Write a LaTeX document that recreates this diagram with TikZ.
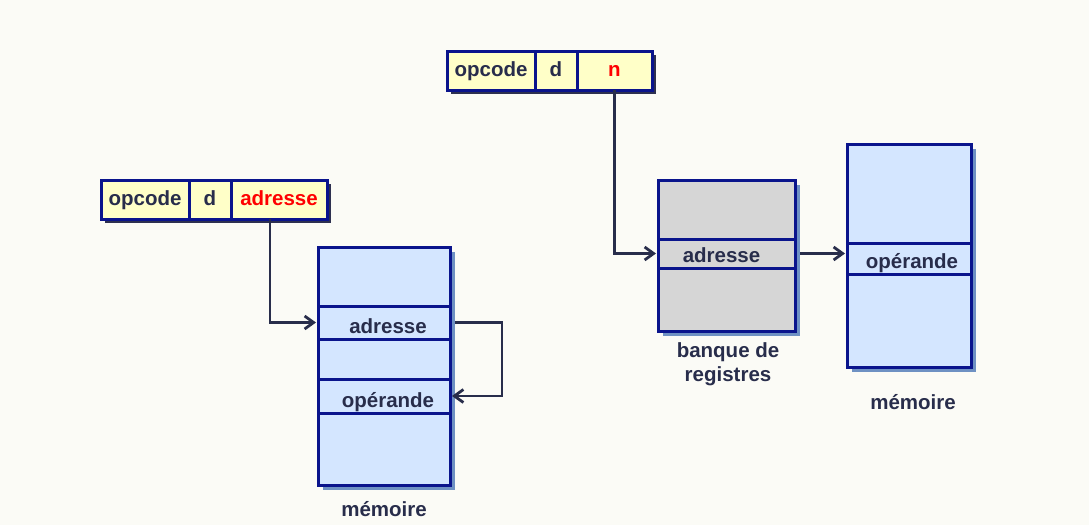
\documentclass[tikz,border=0pt]{standalone}
\usepackage{fontspec}
\setmainfont{Liberation Sans}
\usetikzlibrary{positioning,shadows,arrows.meta}

\definecolor{fond}{RGB}{251,251,246}
\definecolor{bordure}{RGB}{10,20,140}
\definecolor{jaune}{RGB}{255,255,200}
\definecolor{bleuclair}{RGB}{212,230,255}
\definecolor{gris}{RGB}{214,214,214}
\definecolor{encre}{RGB}{40,45,75}
\definecolor{ombreA}{RGB}{45,48,80}
\definecolor{ombreB}{RGB}{110,145,195}

\tikzset{
	champ/.style={draw=bordure, fill=jaune, line width=3pt, minimum height=39pt, inner sep=0pt, outer sep=0pt,
		text height=15pt, text depth=4pt,
		drop shadow={shadow xshift=4pt, shadow yshift=-4pt, fill=ombreA, opacity=1}},
	memoire/.style={draw=bordure, fill=#1, line width=3pt, inner sep=0pt, outer sep=0pt,
		drop shadow={shadow xshift=5pt, shadow yshift=-5pt, fill=ombreB, opacity=1}},
	case/.style={draw=bordure, line width=3pt, inner sep=0pt, outer sep=0pt},
	texte/.style={anchor=base, inner sep=0pt},
	fleche/.style={draw=encre, line width=2.8pt, shorten >=2pt, -{Straight Barb[length=9pt,width=13pt]}}
}

\begin{document}
\begin{tikzpicture}[x=1pt, y=-1pt, font=\fontsize{20.5}{24}\selectfont\bfseries, text=encre]
	\fill[fond] (0,0) rectangle (1089,525);
	\useasboundingbox (0,0) rectangle (1089,525);

	% adressage indirect memoire
	\node[champ, minimum width=88pt] (opA) at (145,199.5) {opcode};
	\node[champ, minimum width=42pt, right=0pt of opA] (dA) {d};
	\node[champ, minimum width=96pt, right=0pt of dA, text=red] (adA) {adresse};

	\node[memoire=bleuclair, minimum width=132pt, minimum height=238pt] (memA) at (384,366) {};
	\node[case, minimum width=132pt, minimum height=33pt] (adrA) at (384,322.5) {};
	\node[case, minimum width=132pt, minimum height=34pt] (opeA) at (384,396) {};
	\node[texte] at ([yshift=-11pt,xshift=4pt]adrA.center) {adresse};
	\node[texte] at ([yshift=-11pt,xshift=4pt]opeA.center) {op\'erande};
	\node (etiqA) at (384,509) {m\'emoire};

	\draw[fleche] ([xshift=-9pt]adA.south) |- (adrA.west);
	\draw[fleche] ([xshift=5pt]adrA.east) -- ++(47,0) |- (opeA.east);

	% adressage indirect registre
	\node[champ, minimum width=88pt] (opB) at (491,70.5) {opcode};
	\node[champ, minimum width=42pt, right=0pt of opB] (dB) {d};
	\node[champ, minimum width=75pt, right=0pt of dB, text=red] (nB) {n};

	\node[memoire=gris, minimum width=137pt, minimum height=151pt] (regB) at (726.5,255.5) {};
	\node[case, minimum width=137pt, minimum height=29pt] (adrB) at (726.5,253.5) {};
	\node[texte] at ([yshift=-8.5pt,xshift=-5pt]adrB.center) {adresse};
	\node[align=center] (etiqB) at (728,364) {banque de\\registres};

	\node[memoire=bleuclair, minimum width=124pt, minimum height=223pt] (memB) at (909,255.5) {};
	\node[case, minimum width=124pt, minimum height=31pt] (opeB) at (909,258.5) {};
	\node[texte] at ([yshift=-9.5pt,xshift=3pt]opeB.center) {op\'erande};
	\node (etiqC) at (913,402) {m\'emoire};

	\draw[fleche] (nB.south) |- (adrB.west);
	\draw[fleche] ([xshift=5pt]adrB.east) -- (adrB.east -| memB.west);
\end{tikzpicture}
\end{document}
